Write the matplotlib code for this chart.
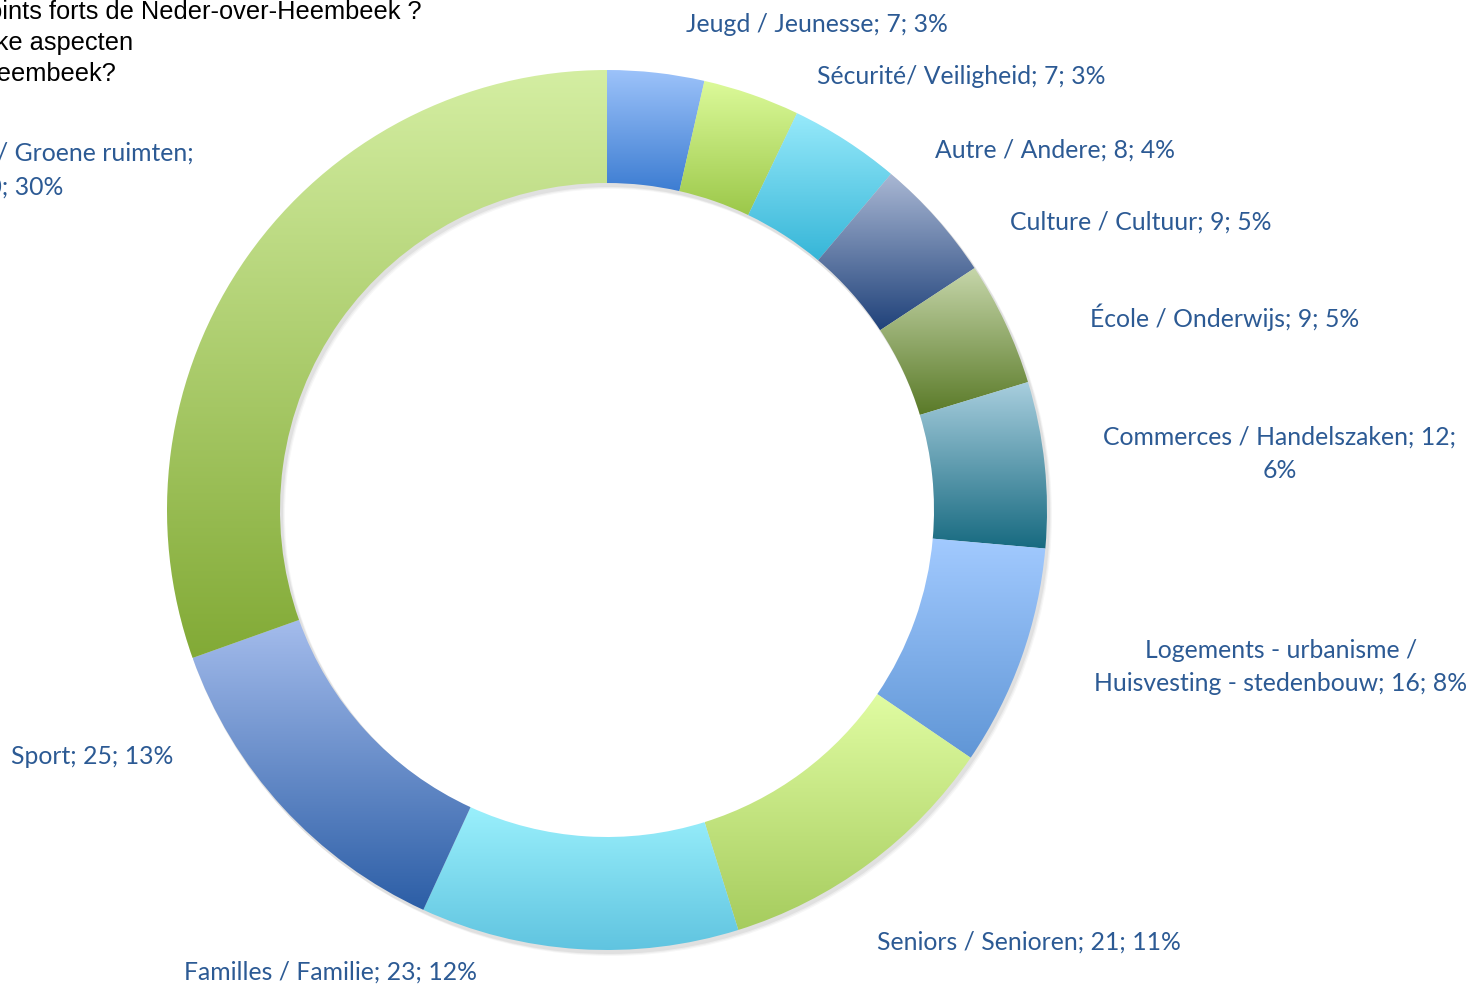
import numpy as np
import matplotlib
matplotlib.use("Agg")
import matplotlib.pyplot as plt
from matplotlib.colors import LinearSegmentedColormap
from matplotlib.patches import Wedge

# data, clockwise from the top
categories = ["Jeugd / Jeunesse", "Sécurité/ Veiligheid", "Autre / Andere",
              "Culture / Cultuur", "École / Onderwijs", "Commerces / Handelszaken",
              "Logements - urbanisme /\nHuisvesting - stedenbouw", "Seniors / Senioren",
              "Familles / Familie", "Sport", "Espaces verts / Groene ruimten"]
values = [7, 7, 8, 9, 9, 12, 16, 21, 23, 25, 60]
percents = [3, 3, 4, 5, 5, 6, 8, 11, 12, 13, 30]
# line breaks inside the labels (after name, after value)
breaks = [(" ", " "), (" ", " "), (" ", " "), (" ", " "), (" ", " "), (" ", "\n"),
          (" ", " "), (" ", " "), (" ", " "), (" ", " "), ("\n", " ")]

top_colors = ["#9DC3FA", "#DCFA9A", "#98EAFB", "#AAB8D4", "#C6D6AA", "#A8CEDE",
              "#A2CAFF", "#E0FCA2", "#9AF0FC", "#A4BCEC", "#D4EEA2"]
bot_colors = ["#3D7DD2", "#9CC84A", "#36B6D8", "#20427A", "#5A7A28", "#176A80",
              "#6096D6", "#A6CC5E", "#60C4E0", "#2C5EA6", "#82AA36"]

# label centres in pixels
label_pos = [(817, 24), (961, 76), (1055, 150), (1141, 222), (1225, 317), (1280, 454),
             (1281, 667), (1029, 942), (331, 972), (92, 756), (18, 170)]

title_lines = ["Quels sont les points forts de Neder-over-Heembeek ?",
               "Wat zijn de sterke aspecten",
               "van Neder-over-Heembeek?"]
title_right = [422, 133, 116]
title_base = [19, 50, 81]

W, H = 1470, 985
fig = plt.figure(figsize=(W / 100, H / 100), dpi=100)
ax = fig.add_axes([0, 0, 1, 1])

cx, cy, R = 607, H - 510, 440
ring = 113

# soft shadow
for k, a in enumerate([0.05, 0.04, 0.03]):
    ax.add_patch(Wedge((cx + 2 + k, cy - 3 - k), R + 1, 0, 360, width=ring + 2,
                       facecolor="black", alpha=a, edgecolor="none", zorder=1))

wedges, _ = ax.pie(values, radius=R, center=(cx, cy), startangle=90, counterclock=False,
                   wedgeprops=dict(width=ring, edgecolor="none", facecolor="none"))

grad = np.linspace(0, 1, 256).reshape(-1, 1)
for w, c0, c1 in zip(wedges, top_colors, bot_colors):
    w.set_zorder(3)
    bb = w.get_path().get_extents()
    cmap = LinearSegmentedColormap.from_list("g", [c0, c1])
    im = ax.imshow(grad, cmap=cmap, extent=(bb.x0, bb.x1, bb.y0, bb.y1),
                   origin="upper", aspect="auto", zorder=2, interpolation="bilinear")
    im.set_clip_path(w)

txt_color = "#2C5A94"
for name, v, p, (s1, s2), (x, y) in zip(categories, values, percents, breaks, label_pos):
    lab = f"{name};{s1}{v};{s2}{p}%"
    ax.text(x, H - y, lab, ha="center", va="center", multialignment="center",
            fontsize=17.8, color=txt_color, family="Lato", linespacing=1.55)

for line, xr, yb in zip(title_lines, title_right, title_base):
    ax.text(xr, H - yb, line, ha="right", va="baseline", fontsize=18.3,
            color="black", family="Liberation Sans")

ax.set_xlim(0, W)
ax.set_ylim(0, H)
ax.set_aspect("equal")
ax.axis("off")

fig.savefig("out.png", dpi=100)
